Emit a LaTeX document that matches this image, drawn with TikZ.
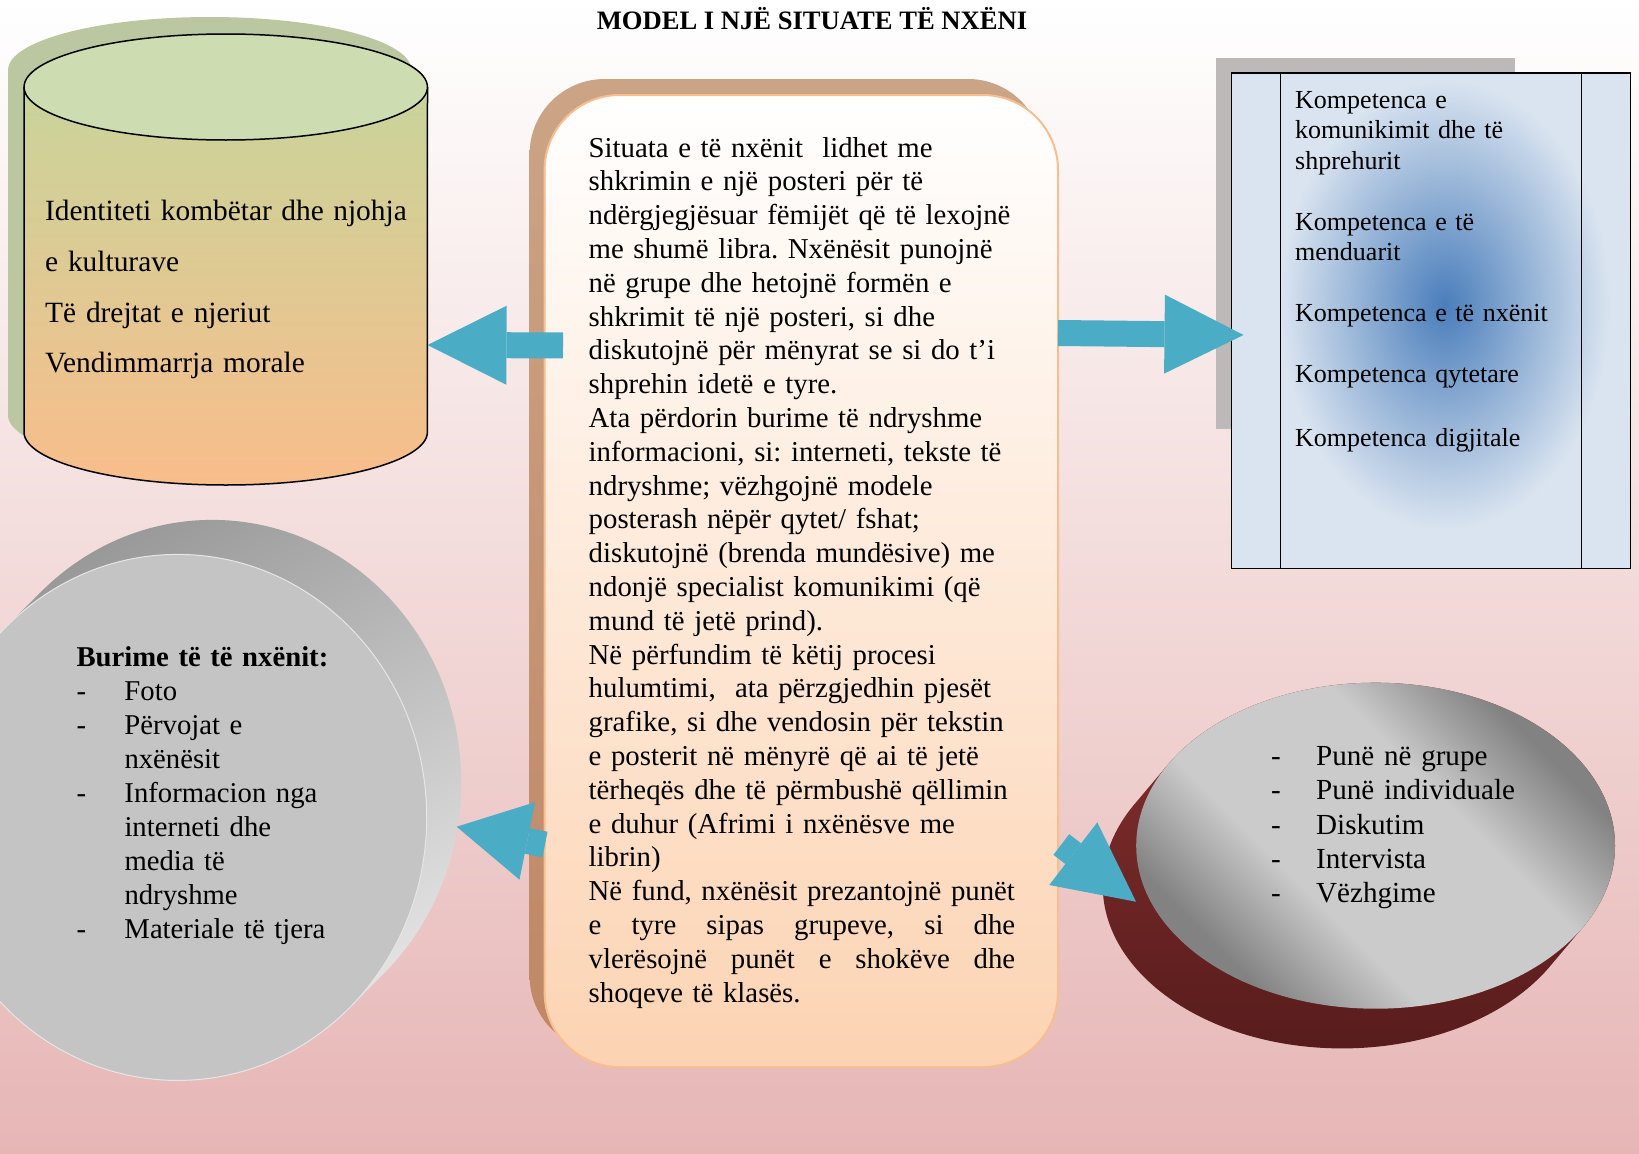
\documentclass[tikz,border=0pt]{standalone}
\usepackage{fontspec}
\setmainfont{Liberation Serif}
\usepackage{xcolor}
\usetikzlibrary{arrows.meta,positioning,shadings}
\definecolor{bgbot}{HTML}{E6B6B5}
\definecolor{cylshadow}{HTML}{BAC7A0}
\definecolor{cyltop}{HTML}{CEDDB1}
\definecolor{cylgreen}{HTML}{C8D49A}
\definecolor{cylorange}{HTML}{F9BD8B}
\definecolor{sitshadetop}{HTML}{CBA486}
\definecolor{sitshadebot}{HTML}{BF8765}
\definecolor{sitpeach}{HTML}{FCD3B2}
\definecolor{sitborder}{HTML}{F8BE8F}
\definecolor{komshadow}{HTML}{BDB9B9}
\definecolor{kompanel}{HTML}{DAE4F0}
\definecolor{komglow}{HTML}{4A7EBB}
\definecolor{diskface}{HTML}{C4C4C4}
\definecolor{diskdark}{HTML}{989898}
\definecolor{disklight}{HTML}{E6E6E6}
\definecolor{redtop}{HTML}{86302F}
\definecolor{redbot}{HTML}{581C1C}
\definecolor{metlight}{HTML}{CBCBCB}
\definecolor{metdark}{HTML}{828282}
\definecolor{arrcyan}{HTML}{4BACC6}
\pgfdeclareverticalshading{metalband}{100bp}{color(0bp)=(metdark); color(27bp)=(metdark);
  color(40bp)=(metlight); color(60bp)=(metlight); color(73bp)=(metdark); color(100bp)=(metdark)}
\tikzset{
  bodytext/.style={inner sep=0pt, anchor=north west, align=left, font=\fontsize{28.8}{33.8}\selectfont},
  blockarr/.style={draw=arrcyan, line width=26pt, -{Triangle[length=#1,width=79pt,line width=0pt]}},
  blockarr/.default=79pt
}
\frenchspacing

\begin{document}
\begin{tikzpicture}[x=1pt,y=-1pt]
  \clip (0,0) rectangle (1639,1154);
  \shade[top color=white, bottom color=bgbot] (0,0) rectangle (1639,1154);

  \node[font=\fontsize{26.6}{30}\selectfont\bfseries, anchor=base] (title) at (812,29) {MODEL I NJË SITUATE TË NXËNI};

  % cylinder
  \fill[cylshadow] (8,70) -- (8,415) arc[start angle=180, end angle=0, x radius=201.7, y radius=53]
    -- (411.5,70) arc[start angle=0, end angle=-180, x radius=201.7, y radius=53] -- cycle;
  \shade[top color=cylgreen, bottom color=cylorange] (24,87) -- (24,432)
    arc[start angle=180, end angle=0, x radius=201.7, y radius=53] -- (427.5,87) -- cycle;
  \draw[line width=1.5pt] (24,87) -- (24,432) arc[start angle=180, end angle=0, x radius=201.7, y radius=53] -- (427.5,87);
  \filldraw[fill=cyltop, line width=1.5pt] (225.75,87) ellipse [x radius=201.7, y radius=53];
  \node[bodytext, font=\fontsize{29.4}{50.6}\selectfont, text width=380pt] (identiteti) at (45,185.3)
    {\strut\makebox[361.6pt][s]{Identiteti\hfill kombëtar\hfill dhe\hfill njohja}\\ e kulturave\\ Të drejtat e njeriut\\ Vendimmarrja morale};

  % central box
  \node[top color=sitshadetop, bottom color=sitshadebot, rounded corners=75pt,
    minimum width=513.4pt, minimum height=972pt] (sitshadow) at (786.3,565) {};
  \node[draw=sitborder, line width=2pt, top color=white, bottom color=sitpeach, rounded corners=75pt,
    minimum width=513.4pt, minimum height=972pt] (situata) at (801.3,581) {};
  \node[bodytext, text width=440pt] (situatext) at (588.5,133.3)
    {\strut Situata e të nxënit\ \ lidhet me\\
    shkrimin e një posteri për të\\
    ndërgjegjësuar fëmijët që të lexojnë\\
    me shumë libra. Nxënësit punojnë\\
    në grupe dhe hetojnë formën e\\
    shkrimit të një posteri, si dhe\\
    diskutojnë për mënyrat se si do t’i\\
    shprehin idetë e tyre.\\
    Ata përdorin burime të ndryshme\\
    informacioni, si: interneti, tekste të\\
    ndryshme; vëzhgojnë modele\\
    posterash nëpër qytet/ fshat;\\
    diskutojnë (brenda mundësive) me\\
    ndonjë specialist komunikimi (që\\
    mund të jetë prind).\\
    Në përfundim të këtij procesi\\
    hulumtimi,\ \ ata përzgjedhin pjesët\\
    grafike, si dhe vendosin për tekstin\\
    e posterit në mënyrë që ai të jetë\\
    tërheqës dhe të përmbushë qëllimin\\
    e duhur (Afrimi i nxënësve me\\
    librin)\\
    Në fund, nxënësit prezantojnë punët\\
    \makebox[426.5pt][s]{e\hfill tyre\hfill sipas\hfill grupeve,\hfill si\hfill dhe}\\
    \makebox[426.5pt][s]{vlerësojnë\hfill punët\hfill e\hfill shokëve\hfill dhe}\\
    shoqeve të klasës.};

  % competences box
  \fill[komshadow] (1215.7,57.5) rectangle (1514.6,428.6);
  \fill[kompanel] (1231.4,73.2) rectangle (1630.7,568.6);
  \shade[inner color=komglow, outer color=kompanel] (1280,80) rectangle (1610,530);
  \draw[line width=1.5pt] (1231.4,73.2) rectangle (1630.7,568.6);
  \draw[line width=1.5pt] (1280.5,73.2) -- (1280.5,568.6) (1581.5,73.2) -- (1581.5,568.6);
  \node[bodytext, font=\fontsize{26}{30.5}\selectfont, text width=320pt] (kompetenca) at (1295,86.7)
    {\strut Kompetenca e\\ komunikimit dhe të\\ shprehurit\\[30.5pt]
    Kompetenca e të\\ menduarit\\[30.5pt]
    Kompetenca e të nxënit\\[30.5pt]
    Kompetenca qytetare\\[33.5pt]
    Kompetenca digjitale};

  % left disk
  \shade[top color=diskdark, bottom color=disklight, shading angle=30]
    \foreach \k in {0,...,23} {({177.7+1.5*\k},{817.4-1.5*\k}) ellipse [x radius=249, y radius=263]};
  \filldraw[fill=diskface, draw=disklight, line width=1pt] (177.7,817.4) ellipse [x radius=249, y radius=263];
  \node[bodytext, font=\fontsize{28.7}{34.1}\selectfont, text width=330pt] (burime) at (76.3,642.1)
    {\strut\textbf{Burime të të nxënit:}\\
    \makebox[48pt][l]{-}Foto\\
    \makebox[48pt][l]{-}Përvojat e\\
    \makebox[48pt][l]{}nxënësit\\
    \makebox[48pt][l]{-}Informacion nga\\
    \makebox[48pt][l]{}interneti dhe\\
    \makebox[48pt][l]{}media të\\
    \makebox[48pt][l]{}ndryshme\\
    \makebox[48pt][l]{-}Materiale të tjera};

  % right disk
  \shade[top color=redtop, bottom color=redbot]
    \foreach \k in {0,...,25} {({1375.6-1.34*\k},{845.7+1.588*\k}) ellipse [x radius=239.4, y radius=163]};
  \shade[shading=metalband, shading angle=-45]
    (1375.6,845.7) ellipse [x radius=239.4, y radius=163];
  \node[bodytext, font=\fontsize{29.1}{34.2}\selectfont, text width=300pt] (metoda) at (1271,741.6)
    {\strut\makebox[45pt][l]{-}Punë në grupe\\
    \makebox[45pt][l]{-}Punë individuale\\
    \makebox[45pt][l]{-}Diskutim\\
    \makebox[45pt][l]{-}Intervista\\
    \makebox[45pt][l]{-}Vëzhgime};

  % arrows out of the central box
  \coordinate (sitW) at (563,345.4);
  \coordinate (cylE) at (427.5,345);
  \coordinate (sitE) at (1058,333);
  \coordinate (komW) at (1243.5,335);
  \coordinate (sitSW) at (545,844.5);
  \coordinate (burE) at (456.7,826.7);
  \coordinate (sitSE) at (1061.3,844.5);
  \coordinate (metW) at (1136,901.7);
  \draw[blockarr] (sitW) -- (cylE);
  \draw[blockarr] (sitE) -- (komW);
  \draw[blockarr=72pt] (sitSW) -- (burE);
  \draw[blockarr] (sitSE) -- (metW);
\end{tikzpicture}
\end{document}
